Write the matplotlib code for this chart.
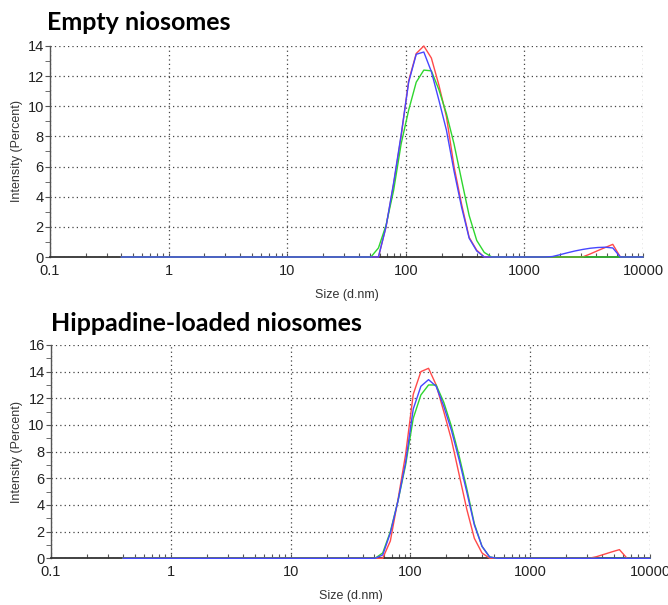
import matplotlib
matplotlib.use("Agg")
import matplotlib.pyplot as plt
from matplotlib.ticker import LogLocator, FixedLocator, NullFormatter

plt.rcParams['font.family'] = ['Liberation Sans', 'DejaVu Sans']

# Size classes (d.nm) of the instrument
sizes = [0.4, 0.4632, 0.5365, 0.6213, 0.7195, 0.8332, 0.9649, 1.117, 1.294, 1.499,
         1.736, 2.010, 2.328, 2.696, 3.122, 3.615, 4.187, 4.849, 5.615, 6.503,
         7.531, 8.721, 10.10, 11.70, 13.54, 15.69, 18.17, 21.04, 24.36, 28.21,
         32.67, 37.84, 43.82, 50.75, 58.77, 68.06, 78.82, 91.28, 105.7, 122.4,
         141.8, 164.2, 190.1, 220.2, 255.0, 295.3, 342.0, 396.1, 458.7, 531.2,
         615.1, 712.4, 825.0, 955.4, 1106, 1281, 1484, 1718, 1990, 2305,
         2669, 3091, 3580, 4145, 4801, 5560, 6439, 7456, 8635, 10000]

# Empty niosomes (intensity %)
empty_red = [0, 0, 0, 0, 0, 0, 0, 0, 0, 0,
             0, 0, 0, 0, 0, 0, 0, 0, 0, 0,
             0, 0, 0, 0, 0, 0, 0, 0, 0, 0,
             0, 0, 0, 0, 0, 2.0, 4.8, 8.0, 11.7, 13.5,
             14.0, 13.2, 11.4, 9.3, 6.0, 3.5, 1.3, 0.45, 0, 0,
             0, 0, 0, 0, 0, 0, 0, 0, 0, 0,
             0, 0, 0.2, 0.42, 0.63, 0.84, 0, 0, 0, 0]
empty_green = [0, 0, 0, 0, 0, 0, 0, 0, 0, 0,
               0, 0, 0, 0, 0, 0, 0, 0, 0, 0,
               0, 0, 0, 0, 0, 0, 0, 0, 0, 0,
               0, 0, 0, 0, 0.6, 2.1, 4.4, 7.5, 9.75, 11.6,
               12.4, 12.35, 11.1, 9.5, 7.5, 5.1, 2.75, 1.1, 0.3, 0,
               0, 0, 0, 0, 0, 0, 0, 0, 0, 0,
               0, 0, 0, 0, 0, 0, 0, 0, 0, 0]
empty_blue = [0, 0, 0, 0, 0, 0, 0, 0, 0, 0,
              0, 0, 0, 0, 0, 0, 0, 0, 0, 0,
              0, 0, 0, 0, 0, 0, 0, 0, 0, 0,
              0, 0, 0, 0, 0, 2.0, 4.9, 8.1, 11.6, 13.45,
              13.6, 12.3, 10.4, 8.4, 5.7, 3.3, 1.25, 0.4, 0, 0,
              0, 0, 0, 0, 0, 0, 0, 0.03, 0.15, 0.28,
              0.4, 0.5, 0.58, 0.63, 0.65, 0.6, 0, 0, 0, 0]

# Hippadine-loaded niosomes (intensity %)
loaded_red = [0, 0, 0, 0, 0, 0, 0, 0, 0, 0,
              0, 0, 0, 0, 0, 0, 0, 0, 0, 0,
              0, 0, 0, 0, 0, 0, 0, 0, 0, 0,
              0, 0, 0, 0, 0, 1.3, 4.4, 7.8, 12.3, 14.0,
              14.25, 13.0, 11.0, 8.9, 6.3, 3.7, 1.5, 0.4, 0, 0,
              0, 0, 0, 0, 0, 0, 0, 0, 0, 0,
              0, 0, 0.12, 0.3, 0.48, 0.65, 0, 0, 0, 0]
loaded_green = [0, 0, 0, 0, 0, 0, 0, 0, 0, 0,
                0, 0, 0, 0, 0, 0, 0, 0, 0, 0,
                0, 0, 0, 0, 0, 0, 0, 0, 0, 0,
                0, 0, 0, 0, 0.4, 2.0, 4.3, 7.0, 10.5, 12.25,
                13.0, 13.0, 11.7, 9.9, 7.7, 5.25, 2.6, 0.9, 0.1, 0,
                0, 0, 0, 0, 0, 0, 0, 0, 0, 0,
                0, 0, 0, 0, 0, 0, 0, 0, 0, 0]
loaded_blue = [0, 0, 0, 0, 0, 0, 0, 0, 0, 0,
               0, 0, 0, 0, 0, 0, 0, 0, 0, 0,
               0, 0, 0, 0, 0, 0, 0, 0, 0, 0,
               0, 0, 0, 0, 0.25, 1.9, 4.3, 7.2, 11.2, 12.9,
               13.4, 12.9, 11.4, 9.6, 7.4, 5.0, 2.5, 0.9, 0.1, 0,
               0, 0, 0, 0, 0, 0, 0, 0, 0, 0,
               0, 0, 0, 0, 0, 0, 0, 0, 0, 0]

xtick_values = [0.1, 1, 10, 100, 1000, 10000]
xtick_labels = ['0.1', '1', '10', '100', '1000', '10000']
titles = ['Empty niosomes', 'Hippadine-loaded niosomes']
xlabel = 'Size (d.nm)'
ylabel = 'Intensity (Percent)'

RED = '#ff4a4a'
GREEN = '#2ed62e'
BLUE = '#4646ff'

fig = plt.figure(figsize=(6.68, 6.05), dpi=100)
ax1 = fig.add_axes([0.0749, 0.5752, 0.8877, 0.3488])
ax2 = fig.add_axes([0.0763, 0.0772, 0.8967, 0.3526])


def style(ax, ymax):
    ax.set_xscale('log')
    ax.set_xlim(0.1, 10000)
    ax.set_ylim(0, ymax)
    ax.set_xticks(xtick_values)
    ax.set_xticklabels(xtick_labels)
    ax.xaxis.set_minor_locator(LogLocator(base=10, subs=range(2, 10), numticks=20))
    ax.xaxis.set_minor_formatter(NullFormatter())
    ax.set_yticks(list(range(0, ymax + 1, 2)))
    ax.yaxis.set_minor_locator(FixedLocator(list(range(1, ymax, 2))))
    ax.grid(which='major', linestyle=(0, (1, 2.5)), color='#444444', lw=0.9)
    for s in ('top', 'right'):
        ax.spines[s].set_visible(False)
    ax.spines['left'].set_color('#555555')
    ax.spines['left'].set_linewidth(1.0)
    ax.spines['bottom'].set_color('#333333')
    ax.spines['bottom'].set_linewidth(1.3)
    ax.tick_params(axis='x', which='both', direction='in', length=3,
                   color='#555555', width=0.8, labelsize=10.5,
                   labelcolor='#222222', pad=5)
    ax.tick_params(axis='y', which='both', direction='out', length=3.5,
                   color='#555555', labelsize=10.5, labelcolor='#222222', pad=1)


for ax, ymax, series in [(ax1, 14, (empty_red, empty_green, empty_blue)),
                         (ax2, 16, (loaded_red, loaded_green, loaded_blue))]:
    style(ax, ymax)
    for vals, c in zip(series, (RED, GREEN, BLUE)):
        ax.plot(sizes, vals, color=c, lw=1.0, clip_on=False, zorder=3)

# titles
fig.text(47 / 668, 1 - 30 / 605, titles[0], fontfamily='Lato', fontweight='bold',
         fontsize=18, va='baseline', ha='left', color='black')
fig.text(51 / 668, 1 - 331 / 605, titles[1], fontfamily='Lato', fontweight='bold',
         fontsize=18, va='baseline', ha='left', color='black')

# axis labels
fig.text(0.025, 0.7496, ylabel, rotation=90, ha='center', va='center', fontsize=9, color='#333333')
fig.text(0.025, 0.2529, ylabel, rotation=90, ha='center', va='center', fontsize=9, color='#333333')
fig.text(346.5 / 668, 1 - 295 / 605, xlabel, ha='center', va='center', fontsize=9, color='#333333')
fig.text(350.5 / 668, 1 - 596 / 605, xlabel, ha='center', va='center', fontsize=9, color='#333333')

fig.savefig('out.png', dpi=100)
